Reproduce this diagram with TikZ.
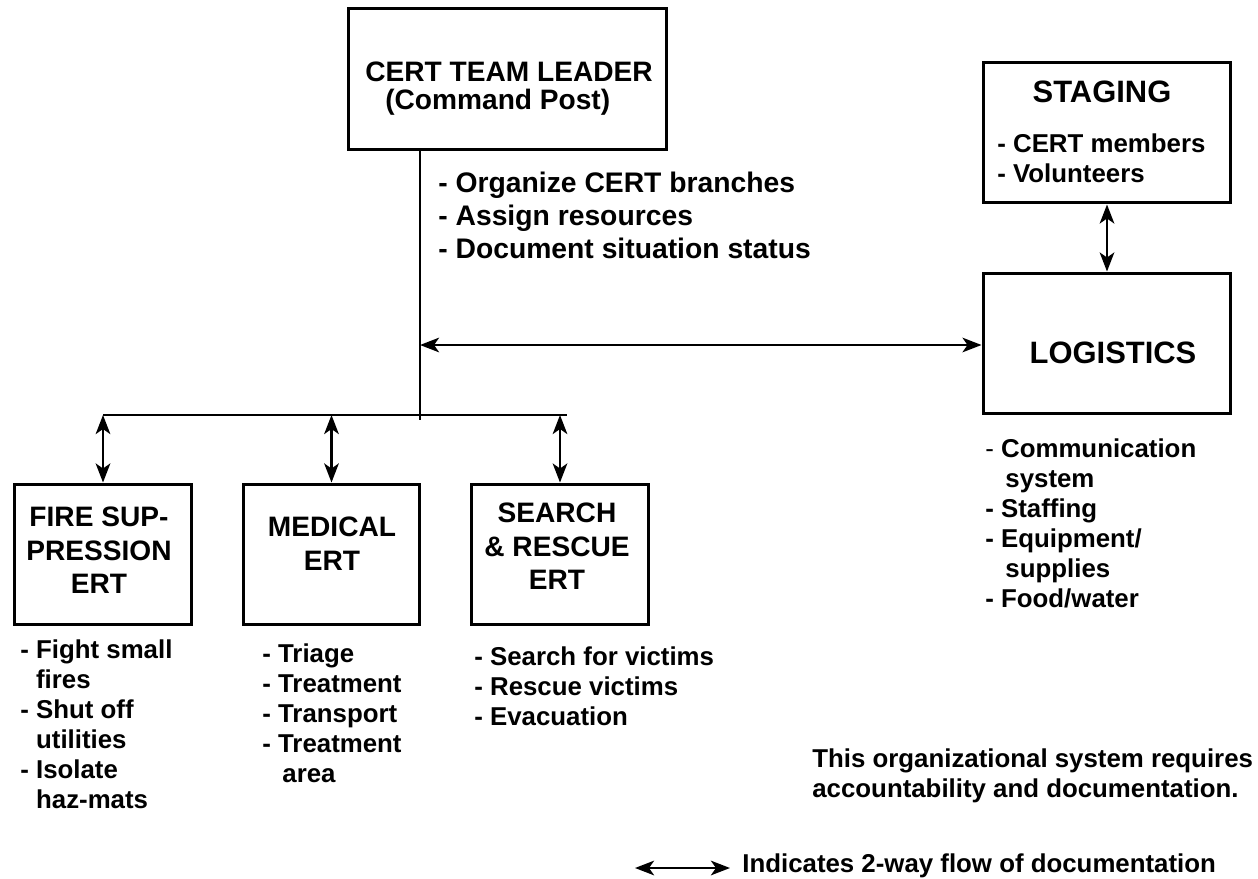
\documentclass[tikz,border=0pt]{standalone}
\usepackage{fontspec}
\setmainfont{Liberation Sans}
\usetikzlibrary{arrows.meta,positioning}
% indent for a wrapped duty line
\newcommand{\cont}{\hphantom{- }}

\begin{document}
\begin{tikzpicture}[x=0.02cm,y=-0.02cm,
    unitbox/.style={draw,line width=1.7pt,minimum width=3.54cm,minimum height=2.82cm,inner sep=0pt},
    heading/.style={align=center,inner sep=0pt,font=\fontsize{16}{18.8}\selectfont\bfseries},
    duties/.style={align=left,inner sep=0pt,anchor=north west,font=\fontsize{14.7}{17.1}\selectfont\bfseries},
    wire/.style={line width=1.6pt},
    twoway/.style={wire,{Stealth[length=3.8mm,width=2.9mm,inset=1mm]}-{Stealth[length=3.8mm,width=2.9mm,inset=1mm]}}
]
\useasboundingbox (0,0) rectangle (1258,879);

% Command post
\node[unitbox,minimum width=6.38cm,minimum height=2.84cm] (leader) at (507.5,79) {};
\node[heading,anchor=north,font=\fontsize{16}{15.9}\selectfont\bfseries] (leadername) at (509,62) {CERT TEAM LEADER\\(Command Post)\hspace*{0.8em}};
\node[duties,font=\fontsize{16.1}{18.8}\selectfont\bfseries] (leaderduties) at (438,172) {- Organize CERT branches\\- Assign resources\\- Document situation status};

% Trunk and branch bus
\coordinate (hub) at (420,345);
\coordinate (trunkend) at (420,420);
\coordinate (busL) at (103,415);
\coordinate (busR) at (567,415);
\draw[wire] (leader.south -| trunkend) -- (trunkend);
\draw[wire] (busL) -- (busR);

% Emergency response teams
\node[unitbox] (fire) at (103,554.5) {};
\node[unitbox] (medical) at (331.5,554.5) {};
\node[unitbox] (search) at (560,554.5) {};
\node[heading,anchor=north] (firename) at (99,507) {FIRE SUP-\\PRESSION\\ERT};
\node[heading,anchor=north] (medicalname) at (332,517) {MEDICAL\\ERT};
\node[heading,anchor=north] (searchname) at (557,503) {SEARCH\\\& RESCUE\\ERT};
\foreach \team in {fire,medical,search}
  \draw[twoway] (\team.north |- busL) -- (\team.north);

\node[duties] (fireduties) at (20,639) {- Fight small\\\cont fires\\- Shut off\\\cont utilities\\- Isolate\\\cont haz-mats};
\node[duties] (medicalduties) at (262,643) {- Triage\\- Treatment\\- Transport\\- Treatment\\\cont\,area};
\node[duties] (searchduties) at (474,646) {- Search for victims\\- Rescue victims\\- Evacuation};

% Staging and logistics
\node[unitbox,minimum width=4.96cm] (staging) at (1107,132.5) {};
\node[heading,font=\fontsize{17.6}{17.6}\selectfont\bfseries] (stagingname) at (1102,92) {STAGING};
\node[duties] (stagingduties) at (997,133) {- CERT members\\- Volunteers};
\node[unitbox,minimum width=4.96cm] (logistics) at (1107,343.5) {};
\node[heading,font=\fontsize{17.6}{17.6}\selectfont\bfseries] (logisticsname) at (1113,353) {LOGISTICS};
\node[duties] (logisticsduties) at (985,438) {{\mdseries -} Communication\\\cont\,system\\- Staffing\\- Equipment/\\\cont\,supplies\\- Food/water};
\draw[twoway] (staging) -- (logistics);
\draw[twoway] (hub) -- (hub -| logistics.west);

% Note and legend
\node[duties] (note) at (812,748) {This organizational system requires\\accountability and documentation.};
\coordinate (legL) at (635,868);
\coordinate (legR) at (730,868);
\draw[twoway] (legL) -- (legR);
\node[duties,anchor=west] (legend) at (742,866) {Indicates 2-way flow of documentation};
\end{tikzpicture}
\end{document}
